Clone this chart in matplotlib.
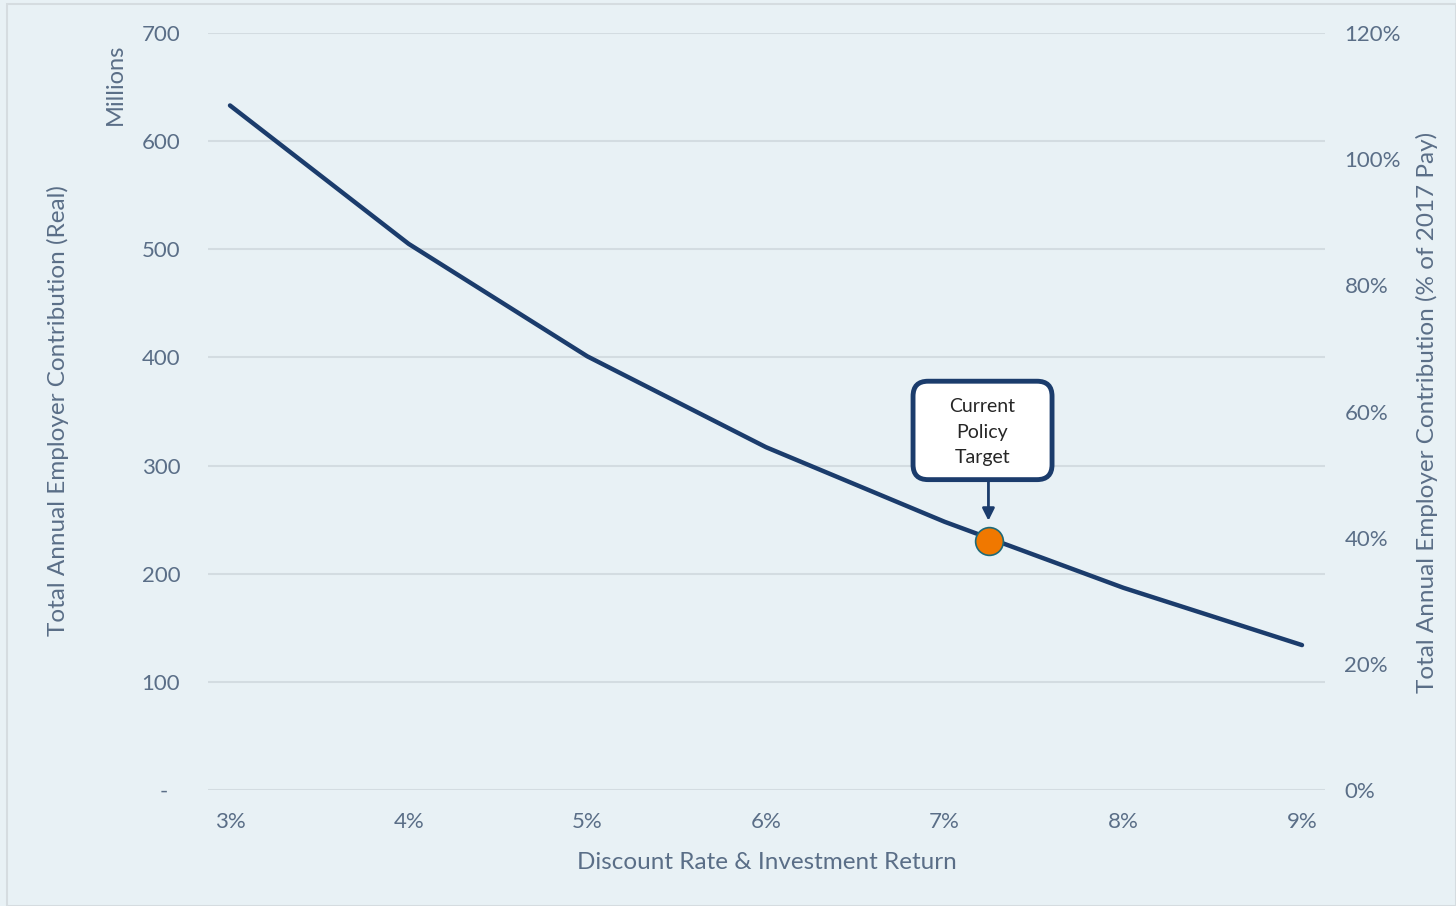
import matplotlib.pyplot as plt
from matplotlib.patches import Rectangle, FancyBboxPatch

# discount rate (%) vs total annual employer contribution ($ millions, real)
rates = [3, 4, 5, 6, 7, 8, 9]
contrib = [633, 505, 401, 317, 248, 187, 134]
rate_labels = ["3%", "4%", "5%", "6%", "7%", "8%", "9%"]

# current policy target point
target_rate = 7.25
target_contrib = 230

left_ticks = [0, 100, 200, 300, 400, 500, 600, 700]
left_labels = ["-  ", "100", "200", "300", "400", "500", "600", "700"]
right_ticks = [0, 20, 40, 60, 80, 100, 120]

bg = "#E8F1F5"
txt = "#5A6E87"
navy = "#1B3C6C"

plt.rcParams["font.family"] = ["Lato", "DejaVu Sans"]

fig = plt.figure(figsize=(14.56, 9.06), dpi=100, facecolor=bg)
fig.patches.append(Rectangle((7 / 1456, 0), 1 - 7 / 1456, 1 - 4 / 906, transform=fig.transFigure,
                             fill=False, edgecolor="#D5DCE0", linewidth=1.5))
ax = fig.add_axes([208 / 1456, 1 - 790 / 906, (1325 - 208) / 1456, (790 - 33) / 906])
ax.set_facecolor(bg)

ax.set_ylim(0, 700)
ax.set_xlim(3 - 22 / 178.67, 9 + 23 / 178.67)
ax.set_yticks(left_ticks)
ax.set_yticklabels(left_labels)
ax.set_xticks(rates)
ax.set_xticklabels(rate_labels)
ax.grid(axis="y", color="#D3DCE1", linewidth=1.5)
ax.set_axisbelow(True)
for s in ax.spines.values():
    s.set_visible(False)
ax.tick_params(axis="both", length=0, labelsize=16, colors=txt)
ax.tick_params(axis="y", pad=20)
ax.tick_params(axis="x", pad=16)

ax.plot(rates, contrib, color=navy, linewidth=3.2, solid_capstyle="round", zorder=3)
ax.plot([target_rate], [target_contrib], "o", markersize=20, markerfacecolor="#F07800",
        markeredgecolor="#1E6A78", markeredgewidth=1.2, zorder=4)

# callout box (data units; mutation_aspect keeps the corners round)
x_px = (ax.get_xlim()[1] - ax.get_xlim()[0]) / 1117
y_px = 700 / 757
box = FancyBboxPatch((6.823, 287), 0.778, 91,
                     boxstyle=f"round,pad=0,rounding_size={15 * x_px}",
                     mutation_aspect=y_px / x_px, fc="white", ec=navy, lw=3.5, zorder=5)
ax.add_patch(box)
ax.text(6.823 + 0.389, 331, "Current\nPolicy\nTarget", ha="center", va="center",
        fontsize=14, color="#262626", linespacing=1.6, zorder=6)
ax.annotate("", xy=(target_rate - 0.005, target_contrib + 19), xytext=(target_rate - 0.005, 286),
            arrowprops=dict(arrowstyle="-|>", color=navy, lw=2, mutation_scale=18,
                            shrinkA=0, shrinkB=0), zorder=5)

ax.set_xlabel("Discount Rate & Investment Return", fontsize=17.5, color=txt, labelpad=14)
fig.text(58 / 1456, 1 - 411 / 906, "Total Annual Employer Contribution (Real)", rotation=90,
         ha="center", va="center", fontsize=17.5, color=txt)
fig.text(115 / 1456, 1 - 84 / 906, "Millions", rotation=90, ha="center", va="center",
         fontsize=17, color=txt)

ax2 = ax.twinx()
ax2.set_ylim(0, 120)
ax2.set_yticks(right_ticks)
ax2.set_yticklabels([f"{t}%" for t in right_ticks])
for s in ax2.spines.values():
    s.set_visible(False)
ax2.tick_params(axis="y", length=0, labelsize=16, colors=txt, pad=14)
fig.text(1427 / 1456, 1 - 412 / 906, "Total Annual Employer Contribution (% of 2017 Pay)",
         rotation=90, ha="center", va="center", fontsize=17.5, color=txt)

fig.savefig("out.png", dpi=100, facecolor=bg)
